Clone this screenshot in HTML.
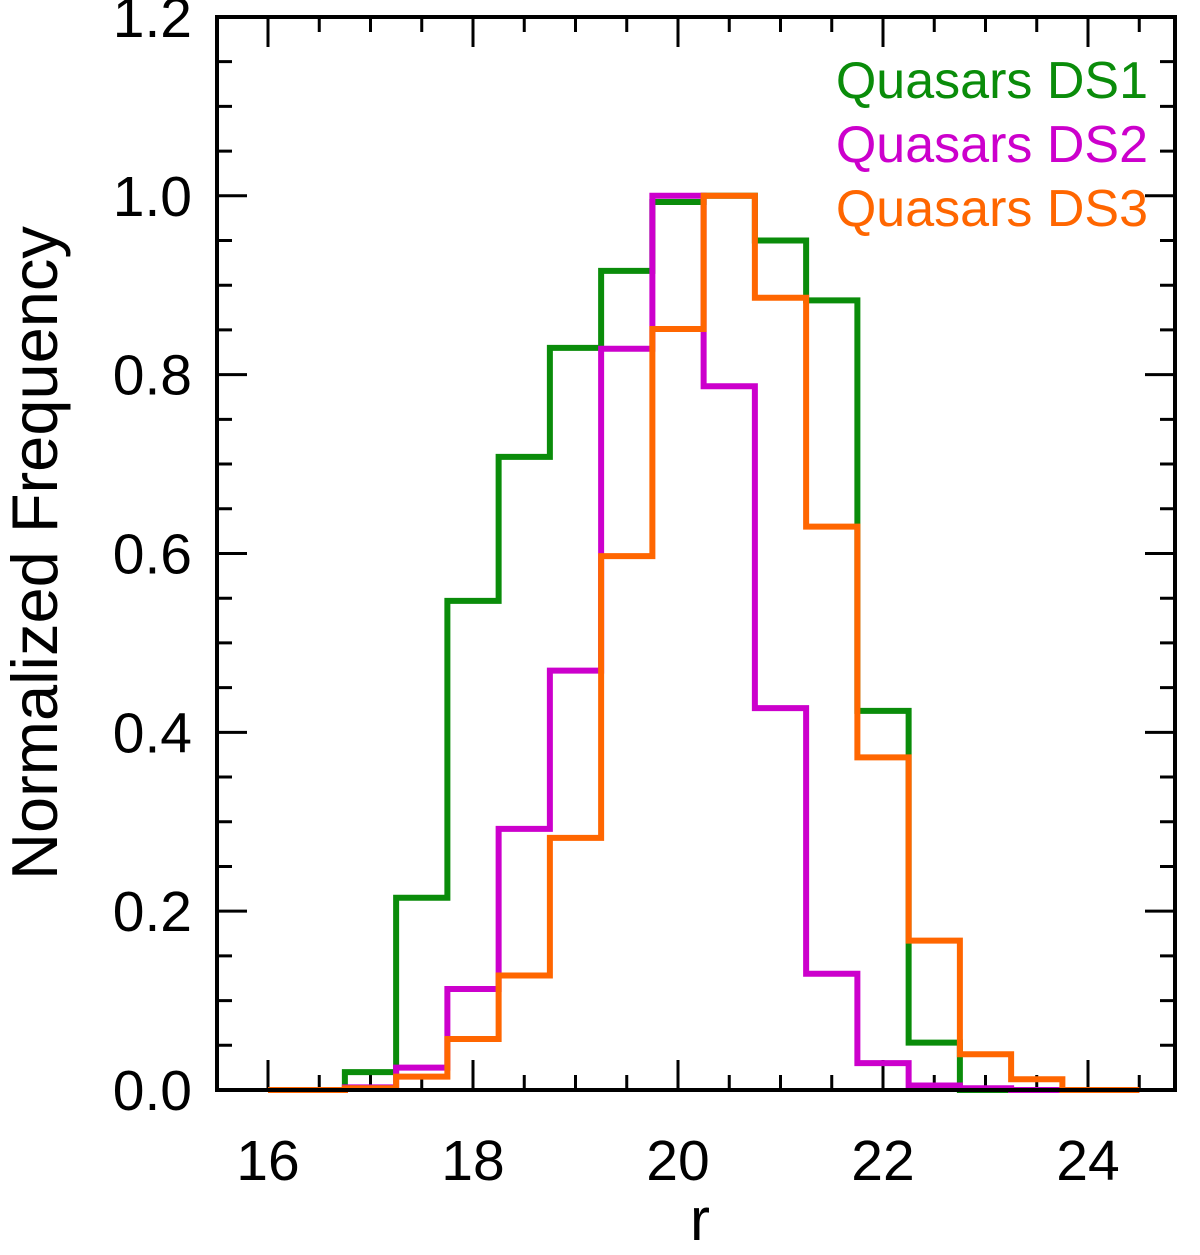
<!DOCTYPE html>
<html><head><meta charset="utf-8"><style>
html,body{margin:0;padding:0;background:#fff;}
svg text{font-family:"Liberation Sans",Arial,sans-serif;}
</style></head><body>
<svg id="chart" width="1200" height="1250" xmlns="http://www.w3.org/2000/svg">
<g id="axes"></g>
<g id="series"></g>
<rect x="217" y="17" width="958" height="1073" fill="none" stroke="#000" stroke-width="4"/>
<text transform="translate(57,553) rotate(-90)" text-anchor="middle" font-size="65">Normalized Frequency</text>
<text x="700" y="1240" text-anchor="middle" font-size="60">r</text>
<text x="1148" y="98" text-anchor="end" font-size="52" fill="#0a8c0a">Quasars DS1</text>
<text x="1148" y="162" text-anchor="end" font-size="52" fill="#cc00cc">Quasars DS2</text>
<text x="1148" y="226" text-anchor="end" font-size="52" fill="#ff6600">Quasars DS3</text>
</svg>
<script>
const binCenters=[16,16.5,17,17.5,18,18.5,19,19.5,20,20.5,21,21.5,22,22.5,23,23.5,24,24.5];
const ds1=[0,0,0.02,0.215,0.547,0.708,0.83,0.916,0.993,1.0,0.95,0.883,0.424,0.053,0,0,0,0];
const ds2=[0,0,0.003,0.025,0.113,0.292,0.469,0.829,1.0,0.787,0.427,0.13,0.03,0.005,0.002,0,0,0];
const ds3=[0,0,0.002,0.015,0.057,0.128,0.282,0.597,0.851,1.0,0.886,0.63,0.372,0.167,0.04,0.012,0,0];
const xTicks=[16,18,20,22,24];
const yTicks=[0,0.2,0.4,0.6,0.8,1.0,1.2];
const yTickLabels=["0.0","0.2","0.4","0.6","0.8","1.0","1.2"];
const NS="http://www.w3.org/2000/svg";
const X=v=>268+(v-16)*102.5;
const Y=v=>1090-v*894.2;
const axes=document.getElementById('axes'),ser=document.getElementById('series');
function mk(tag,attrs,parent){const e=document.createElementNS(NS,tag);for(const k in attrs)e.setAttribute(k,attrs[k]);parent.appendChild(e);return e;}
for(let v=15.5;v<=24.9;v+=0.5){const maj=Math.abs(v/2-Math.round(v/2))<1e-6;const l=maj?30:15;
const t=mk('path',{d:`M${X(v)},1090V${1090-l}M${X(v)},17V${17+l}`,stroke:'#000','stroke-width':3},axes);

}
xTicks.forEach(v=>{const t=mk('text',{x:X(v),y:1180,'text-anchor':'middle','font-size':57},axes);t.textContent=v;

});
for(let i=0;i<=24;i++){const v=i*0.05;const maj=i%4===0;const l=maj?30:15;
const t=mk('path',{d:`M217,${Y(v)}H${217+l}M1175,${Y(v)}H${1175-l}`,stroke:'#000','stroke-width':3},axes);

}
yTicks.forEach((v,i)=>{const t=mk('text',{x:192,y:Y(v)+20,'text-anchor':'end','font-size':57},axes);t.textContent=yTickLabels[i];

});
function step(vals,color,name){let d='';const hw=0.25;
vals.forEach((v,i)=>{const c=binCenters[i];const x0=i===0?c:c-hw;const x1=i===vals.length-1?c:c+hw;
d+=(i===0?'M':'L')+X(x0)+','+Y(v)+'L'+X(x1)+','+Y(v);});
const p=mk('path',{d:d,fill:'none',stroke:color,'stroke-width':6,'stroke-linejoin':'miter'},ser);

}
step(ds1,'#0a8c0a','series-ds1');
step(ds2,'#cc00cc','series-ds2');
step(ds3,'#ff6600','series-ds3');
</script>
</body></html>
